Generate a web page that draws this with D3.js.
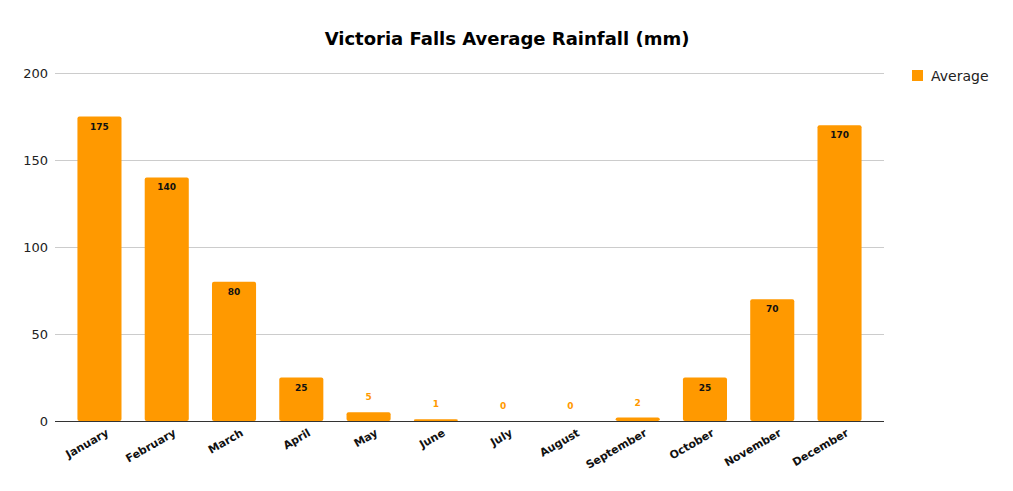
<!DOCTYPE html>
<html>
<head>
<meta charset="utf-8">
<script src="https://cdn.jsdelivr.net/npm/d3@7"></script>
<style>
  body { margin: 0; background: #fff; }
  svg { display: block; }
  .grid line { stroke: #cccccc; }
  .y-axis text { font: 13px "DejaVu Sans", Verdana, sans-serif; fill: #222; }
  .x-label { font: bold 11px "DejaVu Sans", Verdana, sans-serif; fill: #111; }
  .bar-label { font: bold 9px "DejaVu Sans", Verdana, sans-serif; }
</style>
</head>
<body>
<div id="chart"></div>
<script>
// Monthly average rainfall at Victoria Falls (mm)
const months = ["January", "February", "March", "April", "May", "June",
  "July", "August", "September", "October", "November", "December"];
const rainfall = [175, 140, 80, 25, 5, 1, 0, 0, 2, 25, 70, 170];
const yTicks = [0, 50, 100, 150, 200];

const width = 1013, height = 491;
const plot = { left: 66, right: 873, top: 73, bottom: 421 };
const gridLeft = 55, gridRight = 884;
const barColor = "#ff9900";

const svg = d3.select("#chart").append("svg")
  .attr("width", width)
  .attr("height", height);

const x = d3.scaleBand()
  .domain(months)
  .range([plot.left, plot.right])
  .paddingInner(0.345)
  .paddingOuter(0.17);

const y = d3.scaleLinear()
  .domain([0, 200])
  .range([plot.bottom, plot.top]);

// gridlines
svg.append("g").attr("class", "grid")
  .selectAll("line")
  .data(yTicks.filter((t) => t > 0))
  .join("line")
  .attr("x1", gridLeft)
  .attr("x2", gridRight)
  .attr("y1", (d) => y(d) + 0.5)
  .attr("y2", (d) => y(d) + 0.5);

// y tick labels
svg.append("g").attr("class", "y-axis")
  .selectAll("text")
  .data(yTicks)
  .join("text")
  .attr("x", 48)
  .attr("y", (d) => y(d) + 5)
  .attr("text-anchor", "end")
  .text((d) => d);

// bars
svg.append("g")
  .selectAll("rect")
  .data(rainfall)
  .join("rect")
  .attr("x", (d, i) => x(months[i]))
  .attr("width", x.bandwidth())
  .attr("y", (d) => y(d))
  .attr("height", (d) => y(0) - y(d))
  .attr("rx", 2)
  .attr("fill", barColor);

// baseline
svg.append("line")
  .attr("x1", gridLeft)
  .attr("x2", gridRight)
  .attr("y1", y(0) + 0.5)
  .attr("y2", y(0) + 0.5)
  .attr("stroke", "#333");

// value labels: inside bar when it is tall enough, else above in orange
svg.append("g")
  .selectAll("text")
  .data(rainfall)
  .join("text")
  .attr("class", "bar-label")
  .attr("x", (d, i) => x(months[i]) + x.bandwidth() / 2)
  .attr("y", (d) => (d >= 20 ? y(d) + 13 : y(d) - 12))
  .attr("text-anchor", "middle")
  .attr("fill", (d) => (d >= 20 ? "#111" : barColor))
  .text((d) => d);

// x labels rotated
svg.append("g")
  .selectAll("text")
  .data(months)
  .join("text")
  .attr("class", "x-label")
  .attr("text-anchor", "end")
  .attr("transform", (d) => `translate(${x(d) + x.bandwidth() / 2 + 10},${plot.bottom + 14}) rotate(-30)`)
  .text((d) => d);

// title
svg.append("text")
  .attr("x", 507)
  .attr("y", 45)
  .attr("text-anchor", "middle")
  .style("font", "bold 18px 'DejaVu Sans', Verdana, sans-serif")
  .attr("fill", "#000")
  .text("Victoria Falls Average Rainfall (mm)");

// legend
const legend = svg.append("g").attr("transform", "translate(912,70)");
legend.append("rect").attr("width", 11).attr("height", 11).attr("fill", barColor);
legend.append("text")
  .attr("x", 19)
  .attr("y", 11)
  .style("font", "14px 'DejaVu Sans', Verdana, sans-serif")
  .attr("fill", "#222")
  .text("Average");
</script>
</body>
</html>
